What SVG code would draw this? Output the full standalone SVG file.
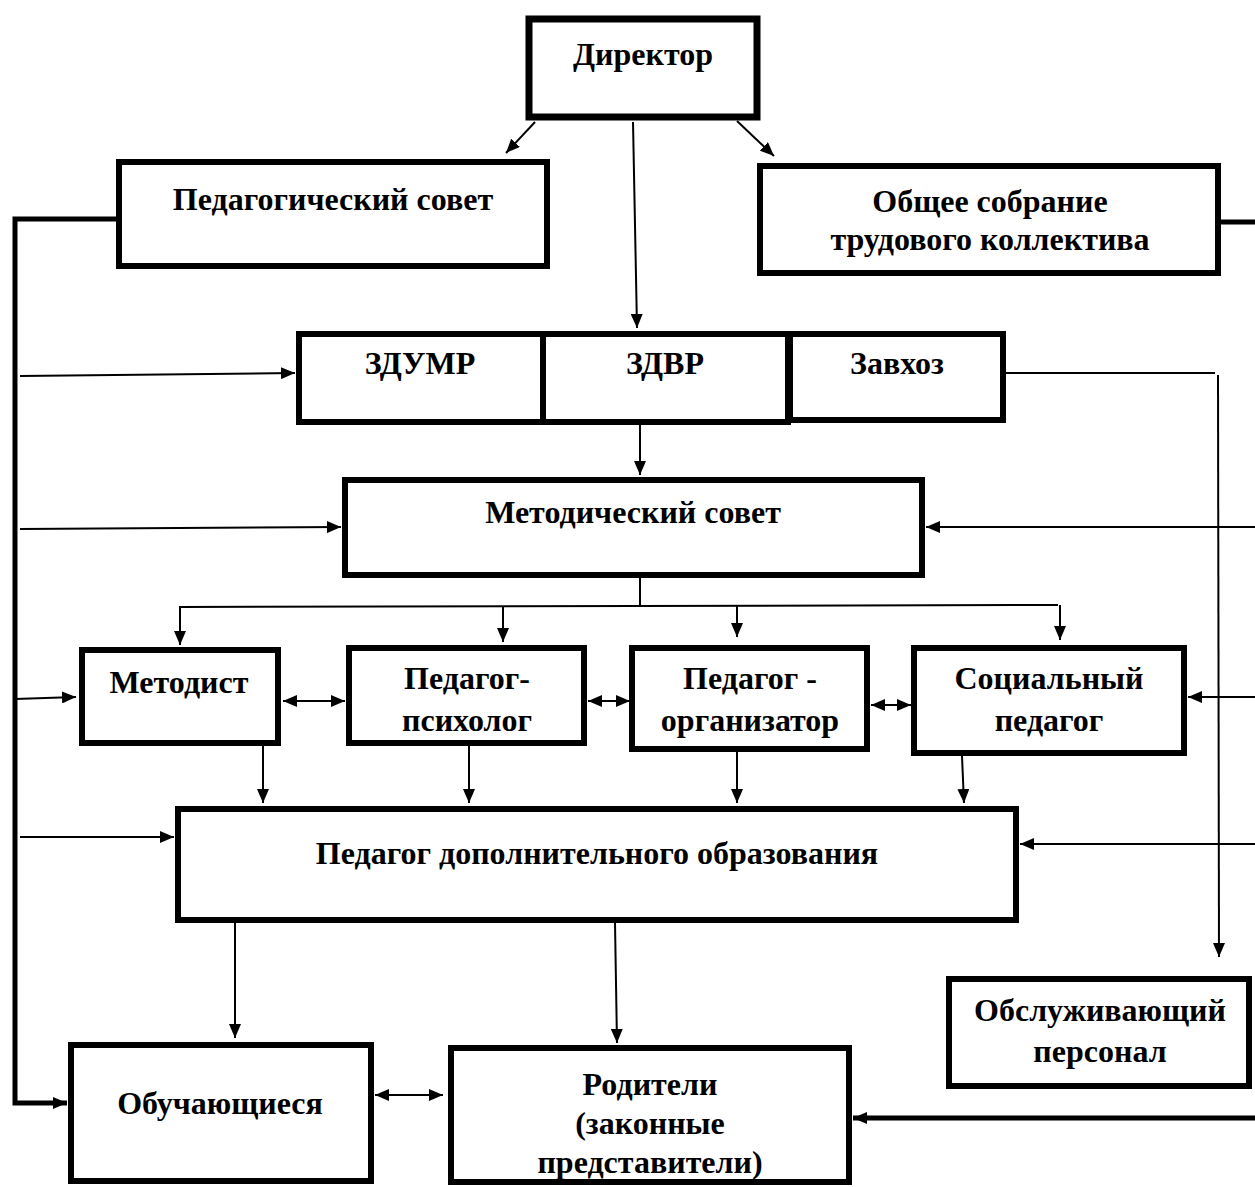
<svg xmlns="http://www.w3.org/2000/svg" width="1255" height="1187" viewBox="0 0 1255 1187">
<defs>
<style>
.box{fill:#fff;stroke:#000;stroke-width:6}
.t{font-family:"Liberation Serif","Times New Roman",serif;font-weight:bold;font-size:32px;text-anchor:middle;fill:#000}
.c{fill:none;stroke:#000;stroke-width:2}
.ck{fill:none;stroke:#000;stroke-width:5}
.a{marker-end:url(#ah)}
.d{marker-start:url(#ah);marker-end:url(#ah)}
</style>
<marker id="ah" viewBox="0 0 14 12" refX="14" refY="6" markerWidth="14" markerHeight="12" markerUnits="userSpaceOnUse" orient="auto-start-reverse">
<path d="M0,0 L14,6 L0,12 z" fill="#000"/>
</marker>
</defs>
<rect width="1255" height="1187" fill="#fff"/>
<g id="connectors">
<line class="c a" x1="535" y1="122" x2="506" y2="153"/>
<line class="c a" x1="737" y1="121" x2="774" y2="156"/>
<line class="c a" x1="633" y1="122" x2="637" y2="328"/>
<line class="c a" x1="640" y1="423" x2="640" y2="475"/>
<polyline class="ck a" points="116,219 15,219 15,1103 67,1103"/>
<line class="c a" x1="20" y1="376" x2="295" y2="373"/>
<line class="c a" x1="20" y1="529" x2="341" y2="527"/>
<line class="c a" x1="15" y1="699" x2="76" y2="697"/>
<line class="c a" x1="20" y1="837" x2="174" y2="837"/>
<line class="c" x1="640" y1="578" x2="640" y2="607"/>
<polyline class="c" points="180,645 180,607 1058,605"/>
<line class="c a" x1="180" y1="607" x2="180" y2="645"/>
<line class="c a" x1="503" y1="607" x2="503" y2="642"/>
<line class="c a" x1="737" y1="606" x2="737" y2="637"/>
<line class="c a" x1="1060" y1="605" x2="1060" y2="640"/>
<line class="c d" x1="283" y1="701" x2="345" y2="701"/>
<line class="c d" x1="588" y1="701" x2="630" y2="701"/>
<line class="c d" x1="871" y1="705" x2="911" y2="705"/>
<line class="c a" x1="263" y1="746" x2="263" y2="803"/>
<line class="c a" x1="469" y1="746" x2="469" y2="803"/>
<line class="c a" x1="737" y1="752" x2="737" y2="803"/>
<line class="c a" x1="962" y1="756" x2="964" y2="803"/>
<line class="c a" x1="235" y1="916" x2="235" y2="1038"/>
<line class="c a" x1="615" y1="923" x2="617" y2="1043"/>
<line class="c d" x1="375" y1="1095" x2="443" y2="1095"/>
<line class="c" x1="1000" y1="373" x2="1215" y2="373"/>
<line class="c a" x1="1218" y1="375" x2="1219" y2="957"/>
<polyline class="ck" points="1221,222 1259,222 1259,1118"/>
<line class="c a" x1="1259" y1="527" x2="926" y2="527"/>
<line class="c a" x1="1259" y1="697" x2="1188" y2="697"/>
<line class="c a" x1="1259" y1="844" x2="1020" y2="844"/>
<line class="ck a" x1="1259" y1="1118" x2="853" y2="1118"/>
</g>
<g id="director"><rect class="box" style="stroke-width:7" x="529" y="19" width="228" height="98"/><text class="t" x="643" y="65">Директор</text></g>
<g id="ped-sovet"><rect class="box" x="119" y="162" width="428" height="104"/><text class="t" x="333" y="210">Педагогический совет</text></g>
<g id="obshchee-sobranie"><rect class="box" x="760" y="166" width="458" height="107"/><text class="t" x="990" y="212">Общее собрание</text><text class="t" x="990" y="250">трудового коллектива</text></g>
<g id="zdumr"><rect class="box" x="299" y="334" width="244" height="88"/><text class="t" x="420" y="374">ЗДУМР</text></g>
<g id="zdvr"><rect class="box" x="543" y="334" width="245" height="88"/><text class="t" x="665" y="374">ЗДВР</text></g>
<g id="zavhoz"><rect class="box" x="790" y="334" width="213" height="86"/><text class="t" x="897" y="374">Завхоз</text></g>
<g id="metod-sovet"><rect class="box" x="345" y="480" width="577" height="95"/><text class="t" x="633" y="523">Методический совет</text></g>
<g id="metodist"><rect class="box" x="82" y="650" width="196" height="93"/><text class="t" x="179" y="693">Методист</text></g>
<g id="ped-psiholog"><rect class="box" x="349" y="648" width="235" height="95"/><text class="t" x="467" y="689">Педагог-</text><text class="t" x="467" y="731">психолог</text></g>
<g id="ped-organizator"><rect class="box" x="632" y="648" width="235" height="101"/><text class="t" x="750" y="689">Педагог -</text><text class="t" x="750" y="731">организатор</text></g>
<g id="soc-pedagog"><rect class="box" x="914" y="648" width="270" height="105"/><text class="t" x="1049" y="689">Социальный</text><text class="t" x="1049" y="731">педагог</text></g>
<g id="ped-dop"><rect class="box" x="178" y="809" width="838" height="111"/><text class="t" x="597" y="864">Педагог дополнительного образования</text></g>
<g id="obsluzh"><rect class="box" x="949" y="979" width="300" height="107"/><text class="t" x="1100" y="1021">Обслуживающий</text><text class="t" x="1100" y="1062">персонал</text></g>
<g id="obuch"><rect class="box" x="71" y="1045" width="300" height="136"/><text class="t" x="220" y="1114">Обучающиеся</text></g>
<g id="roditeli"><rect class="box" x="451" y="1048" width="398" height="134"/><text class="t" x="650" y="1095">Родители</text><text class="t" x="650" y="1134">(законные</text><text class="t" x="650" y="1173">представители)</text></g>
</svg>
